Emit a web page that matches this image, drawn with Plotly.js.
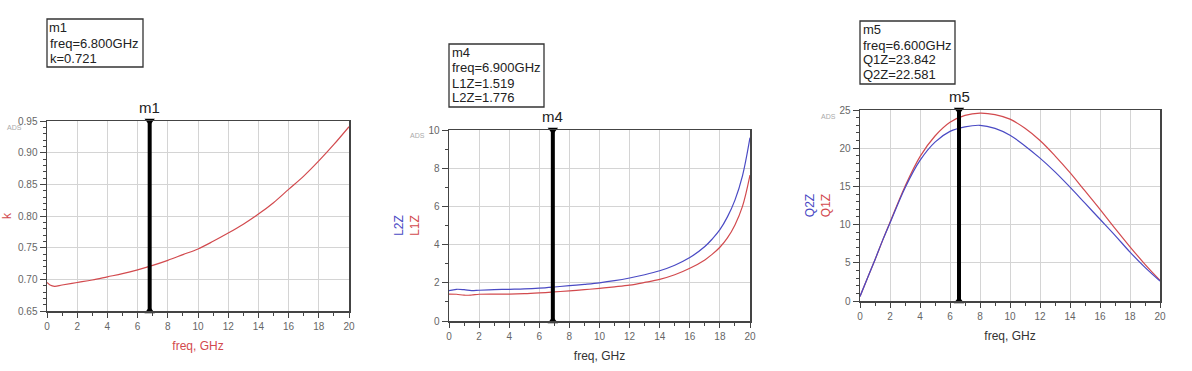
<!DOCTYPE html>
<html>
<head>
<meta charset="utf-8">
<script src="https://cdn.plot.ly/plotly-3.0.1.min.js"></script>
<style>
  html, body { margin: 0; padding: 0; background: #fff; }
  #chart { width: 1192px; height: 371px; }
</style>
</head>
<body>
<div id="chart"></div>
<script>
// ---------- data ----------
const kFreq = [0, 0.2, 0.5, 1, 2, 3, 4, 5, 6, 7, 8, 9, 10, 11, 12, 13, 14, 15, 16, 17, 18, 19, 20];
const kVal  = [0.695, 0.691, 0.689, 0.691, 0.695, 0.699, 0.704, 0.709, 0.715, 0.722, 0.730, 0.739, 0.748, 0.760, 0.773, 0.787, 0.803, 0.821, 0.842, 0.863, 0.887, 0.913, 0.941];

const lFreq = [0, 0.5, 1, 1.5, 2, 3, 4, 5, 6, 7, 8, 9, 10, 11, 12, 13, 14, 15, 16, 17, 17.5, 18, 18.5, 19, 19.5, 20];
const l2z   = [1.59, 1.66, 1.64, 1.59, 1.61, 1.64, 1.66, 1.68, 1.72, 1.78, 1.85, 1.92, 2.00, 2.11, 2.25, 2.42, 2.63, 2.92, 3.32, 3.90, 4.30, 4.78, 5.45, 6.33, 7.60, 9.60];
const l1z   = [1.41, 1.40, 1.35, 1.36, 1.40, 1.41, 1.41, 1.43, 1.47, 1.52, 1.58, 1.64, 1.71, 1.79, 1.88, 2.02, 2.18, 2.42, 2.76, 3.20, 3.50, 3.86, 4.35, 5.03, 6.00, 7.64];

const qFreq = [0, 0.5, 1, 1.5, 2, 3, 4, 5, 6, 7, 8, 9, 10, 11, 12, 13, 14, 15, 16, 17, 18, 19, 20];
const q1z   = [0.6, 3.0, 5.4, 7.9, 10.3, 15.0, 18.9, 21.6, 23.4, 24.3, 24.6, 24.4, 23.8, 22.6, 21.0, 19.0, 16.8, 14.4, 12.0, 9.5, 7.1, 4.8, 2.7];
const q2z   = [0.6, 3.0, 5.4, 7.9, 10.2, 14.8, 18.4, 20.8, 22.2, 22.8, 23.0, 22.6, 21.7, 20.3, 18.7, 16.9, 14.9, 12.8, 10.7, 8.6, 6.4, 4.4, 2.6];

// markers: name, frequency, readout lines
const markerNames = ['m1', 'm4', 'm5'];
const markerFreqs = [6.8, 6.9, 6.6];
const markerTexts = [
  ['m1', 'freq=6.800GHz', 'k=0.721'],
  ['m4', 'freq=6.900GHz', 'L1Z=1.519', 'L2Z=1.776'],
  ['m5', 'freq=6.600GHz', 'Q1Z=23.842', 'Q2Z=22.581']
];

const xTicks = [0, 2, 4, 6, 8, 10, 12, 14, 16, 18, 20];
const yRanges = [[0.65, 0.95], [0, 10], [0, 25]];

// ---------- styling ----------
const W = 1192, H = 371;
const RED = '#d24a4e', BLUE = '#4a4ac4';
const FONT = 'Liberation Sans, Arial, sans-serif';
const px = v => v / W;
const py = v => 1 - v / H;

// plot-area pixel boxes [left, right, top, bottom]
const boxes = [[47, 349, 121, 311], [449, 750, 130, 321], [860, 1160, 110, 301]];
// readout-box pixel [left, right, top]
const readBoxes = [[47, 143, 19], [449, 544, 44], [860, 955, 21]];
const LINE_H = 15;

function xAxis(i) {
  const b = boxes[i];
  return {
    domain: [px(b[0]), px(b[1])], range: [0, 20], anchor: 'y' + (i ? i + 1 : ''),
    tickvals: xTicks, ticks: 'outside', ticklen: 5, tickcolor: '#444', tickwidth: 1,
    minor: { dtick: 1, ticks: 'outside', ticklen: 3, tickcolor: '#444', showgrid: false },
    showgrid: true, gridcolor: '#d4d4d4', gridwidth: 1,
    showline: true, linecolor: '#444', linewidth: 1.5, mirror: true,
    zeroline: false, fixedrange: true,
    tickfont: { family: FONT, size: 10, color: '#666' },
    title: { text: 'freq, GHz', standoff: 11,
             font: { family: FONT, size: 12, color: i === 0 ? RED : '#333' } }
  };
}
function yAxis(i, dtick, minorDtick, fmt, titleText) {
  const b = boxes[i];
  return {
    domain: [py(b[3]), py(b[2])], range: yRanges[i], anchor: 'x' + (i ? i + 1 : ''),
    dtick: dtick, tick0: yRanges[i][0], tickformat: fmt,
    ticks: 'outside', ticklen: 6, tickcolor: '#444', tickwidth: 1,
    minor: { dtick: minorDtick, ticks: 'outside', ticklen: 3, tickcolor: '#444', showgrid: false },
    showgrid: true, gridcolor: '#d4d4d4', gridwidth: 1,
    showline: true, linecolor: '#444', linewidth: 1.5, mirror: true,
    zeroline: false, fixedrange: true,
    tickfont: { family: FONT, size: 10, color: '#666' },
    title: { text: titleText, standoff: 6, font: { family: FONT, size: 12 } }
  };
}

const traces = [
  { x: kFreq, y: kVal, xaxis: 'x', yaxis: 'y', mode: 'lines', line: { color: RED, width: 1.2, shape: 'spline' }, name: 'k' },
  { x: lFreq, y: l1z, xaxis: 'x2', yaxis: 'y2', mode: 'lines', line: { color: RED, width: 1.2, shape: 'spline' }, name: 'L1Z' },
  { x: lFreq, y: l2z, xaxis: 'x2', yaxis: 'y2', mode: 'lines', line: { color: BLUE, width: 1.2, shape: 'spline' }, name: 'L2Z' },
  { x: qFreq, y: q1z, xaxis: 'x3', yaxis: 'y3', mode: 'lines', line: { color: RED, width: 1.2, shape: 'spline' }, name: 'Q1Z' },
  { x: qFreq, y: q2z, xaxis: 'x3', yaxis: 'y3', mode: 'lines', line: { color: BLUE, width: 1.2, shape: 'spline' }, name: 'Q2Z' }
];

const shapes = [];
const annotations = [];
markerFreqs.forEach((f, i) => {
  const xa = 'x' + (i ? i + 1 : ''), ya = 'y' + (i ? i + 1 : '');
  const r = yRanges[i];
  // marker vertical line
  shapes.push({ type: 'line', xref: xa, yref: ya + ' domain', x0: f, x1: f, y0: 0, y1: 1,
                line: { color: '#000', width: 4 }, layer: 'above' });
  // end triangles
  traces.push({ x: [f, f], y: [r[1], r[0]], xaxis: xa, yaxis: ya, mode: 'markers', cliponaxis: false,
                marker: { symbol: ['triangle-down', 'triangle-up'], size: 9, color: '#000' },
                showlegend: false, hoverinfo: 'skip' });
  // marker name above the plot
  annotations.push({ x: f, xref: xa, y: 1, yref: ya + ' domain', yanchor: 'bottom', yshift: 3,
                     text: markerNames[i], showarrow: false,
                     font: { family: FONT, size: 15, color: '#222' } });
  // readout box: frame + one annotation per line
  const rb = readBoxes[i];
  const nLines = markerTexts[i].length;
  const bottom = rb[2] + nLines * LINE_H + 3;
  shapes.push({ type: 'rect', xref: 'paper', yref: 'paper',
                x0: px(rb[0]), x1: px(rb[1]), y0: py(bottom), y1: py(rb[2]),
                line: { color: '#333', width: 1.3 }, fillcolor: 'rgba(0,0,0,0)' });
  markerTexts[i].forEach((t, j) => {
    annotations.push({ x: px(rb[0] + 1.5), y: py(rb[2] + 9 + j * LINE_H), xref: 'paper', yref: 'paper',
                       xanchor: 'left', yanchor: 'middle', align: 'left', showarrow: false,
                       text: t, borderpad: 0,
                       font: { family: FONT, size: 13, color: '#222' } });
  });
  // small "ADS" tag
  const b = boxes[i];
  annotations.push({ x: px(b[0] - 32), y: py(b[2] + 6), xref: 'paper', yref: 'paper',
                     xanchor: 'center', yanchor: 'middle', text: 'ADS', showarrow: false,
                     font: { family: FONT, size: 7, color: '#aaa' } });
});

const layout = {
  width: W, height: H,
  margin: { l: 0, r: 0, t: 0, b: 0 },
  paper_bgcolor: '#fff', plot_bgcolor: '#fff',
  showlegend: false,
  xaxis: xAxis(0), xaxis2: xAxis(1), xaxis3: xAxis(2),
  yaxis: yAxis(0, 0.05, 0.01, '.2f', '<span style="color:' + RED + '">k</span>'),
  yaxis2: yAxis(1, 2, 1, 'd', '<span style="color:' + BLUE + '">L2Z</span><br><span style="color:' + RED + '">L1Z</span>'),
  yaxis3: yAxis(2, 5, 1, 'd', '<span style="color:' + BLUE + '">Q2Z</span><br><span style="color:' + RED + '">Q1Z</span>'),
  shapes: shapes,
  annotations: annotations
};

Plotly.newPlot('chart', traces, layout, { displayModeBar: false, staticPlot: true });
</script>
</body>
</html>
